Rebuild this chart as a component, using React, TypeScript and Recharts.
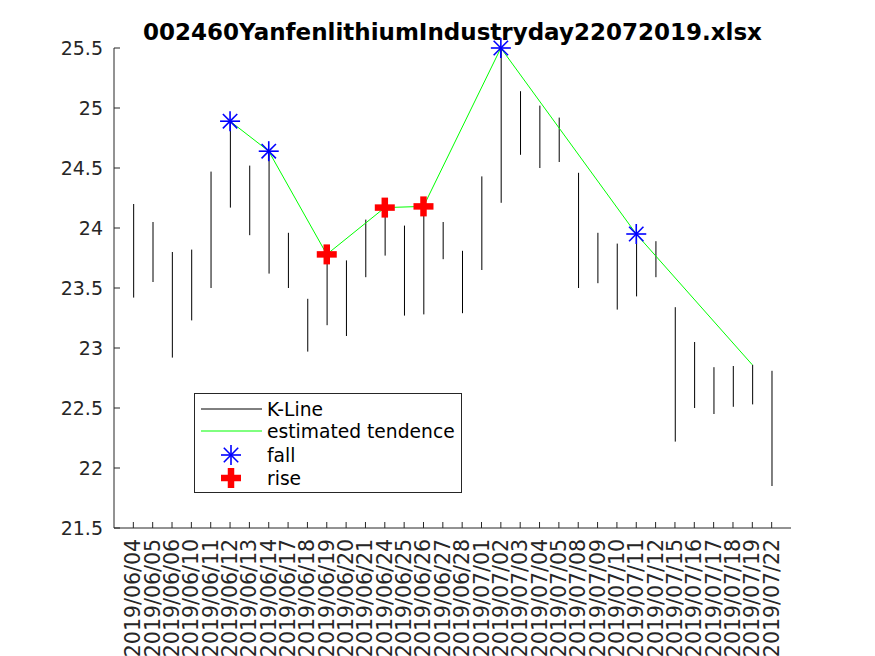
import React from 'react';
import { ComposedChart, Bar, Line, Scatter, XAxis, YAxis, Legend } from 'recharts';

const dates = [
  '2019/06/04', '2019/06/05', '2019/06/06', '2019/06/10', '2019/06/11', '2019/06/12',
  '2019/06/13', '2019/06/14', '2019/06/17', '2019/06/18', '2019/06/19', '2019/06/20',
  '2019/06/21', '2019/06/24', '2019/06/25', '2019/06/26', '2019/06/27', '2019/06/28',
  '2019/07/01', '2019/07/02', '2019/07/03', '2019/07/04', '2019/07/05', '2019/07/08',
  '2019/07/09', '2019/07/10', '2019/07/11', '2019/07/12', '2019/07/15', '2019/07/16',
  '2019/07/17', '2019/07/18', '2019/07/19', '2019/07/22',
];

const highs = [
  24.2, 24.05, 23.8, 23.82, 24.47, 24.89, 24.52, 24.64, 23.96, 23.41, 23.78, 23.73,
  24.07, 24.17, 24.02, 24.18, 24.05, 23.81, 24.43, 25.5, 25.14, 25.02, 24.92, 24.46,
  23.96, 23.87, 23.95, 23.89, 23.34, 23.05, 22.84, 22.85, 22.86, 22.81,
];

const lows = [
  23.42, 23.55, 22.92, 23.23, 23.5, 24.17, 23.94, 23.62, 23.5, 22.97, 23.19, 23.1,
  23.59, 23.77, 23.27, 23.28, 23.74, 23.29, 23.65, 24.21, 24.61, 24.5, 24.55, 23.5,
  23.54, 23.32, 23.43, 23.59, 22.22, 22.5, 22.45, 22.51, 22.53, 21.85,
];

// turning points of the estimated tendence (index into dates, value)
const trendIdx = [5, 7, 10, 13, 15, 19, 26, 32];
const trendVals = [24.89, 24.64, 23.78, 24.17, 24.18, 25.5, 23.95, 22.86];
const fallIdx = [5, 7, 19, 26];
const riseIdx = [10, 13, 15];

const yTicks = [21.5, 22, 22.5, 23, 23.5, 24, 24.5, 25, 25.5];

const FONT = '"DejaVu Sans", sans-serif';
const AXIS = '#262626';

const rows = dates.map((d, i) => {
  const t = trendIdx.indexOf(i);
  return { x: i + 1, range: [lows[i], highs[i]], trend: t >= 0 ? trendVals[t] : null };
});
const trendAt = (i: number) => trendVals[trendIdx.indexOf(i)];
const fallPts = fallIdx.map(i => ({ x: i + 1, v: trendAt(i) }));
const risePts = riseIdx.map(i => ({ x: i + 1, v: trendAt(i) }));

const KLine = (props: any) => {
  const { x, y, width, height } = props;
  const cx = x + width / 2;
  return <line x1={cx} x2={cx} y1={y} y2={y + height} stroke="#000" strokeWidth={1} />;
};

const Star = ({ cx, cy }: any) => {
  const r = 10, d = 7.2;
  return (
    <g stroke="#0000ff" strokeWidth={1.6}>
      <line x1={cx - r} x2={cx + r} y1={cy} y2={cy} />
      <line x1={cx} x2={cx} y1={cy - r} y2={cy + r} />
      <line x1={cx - d} x2={cx + d} y1={cy - d} y2={cy + d} />
      <line x1={cx - d} x2={cx + d} y1={cy + d} y2={cy - d} />
    </g>
  );
};

const Plus = ({ cx, cy }: any) => {
  const r = 10;
  return (
    <g stroke="#ff0000" strokeWidth={6.5}>
      <line x1={cx - r} x2={cx + r} y1={cy} y2={cy} />
      <line x1={cx} x2={cx} y1={cy - r} y2={cy + r} />
    </g>
  );
};

const DateTick = ({ x, y, payload }: any) => (
  <text
    x={x}
    y={y}
    transform={`rotate(-90 ${x} ${y})`}
    textAnchor="end"
    dominantBaseline="central"
    fontSize={20.5}
    fontFamily={FONT}
    fill={AXIS}
  >
    {dates[payload.value - 1]}
  </text>
);

const LegendBox = () => (
  <svg width={268} height={100} style={{ display: 'block' }}>
    <rect x={0.5} y={0.5} width={267} height={99} fill="#fff" stroke={AXIS} strokeWidth={1} />
    <line x1={7} x2={68} y1={16} y2={16} stroke="#000" />
    <line x1={7} x2={68} y1={38} y2={38} stroke="#00ff00" />
    <Star cx={37} cy={62} />
    <Plus cx={37} cy={85} />
    {['K-Line', 'estimated tendence', 'fall', 'rise'].map((s, i) => (
      <text
        key={s}
        x={73}
        y={[16, 38, 62, 85][i]}
        dominantBaseline="central"
        fontSize={18.7}
        fontFamily={FONT}
        fill="#000"
      >
        {s}
      </text>
    ))}
  </svg>
);

export default function App() {
  return (
    <div style={{ position: 'absolute', left: 0, top: 0, width: 875, height: 656, background: '#fff' }}>
      <ComposedChart
        width={875}
        height={656}
        data={rows}
        margin={{ top: 48, right: 84, bottom: 0, left: 54 }}
      >
        <XAxis
          type="number"
          dataKey="x"
          domain={[0, 35]}
          ticks={rows.map(r => r.x)}
          interval={0}
          height={128}
          tick={<DateTick />}
          tickSize={-6}
          tickMargin={17}
          tickLine={{ stroke: AXIS }}
          axisLine={{ stroke: AXIS }}
        />
        <YAxis
          type="number"
          domain={[21.5, 25.5]}
          ticks={yTicks}
          interval={0}
          width={60}
          tickSize={-6}
          tickMargin={17}
          tickLine={{ stroke: AXIS }}
          axisLine={{ stroke: AXIS }}
          tick={{ fontSize: 19, fontFamily: FONT, fill: AXIS }}
        />
        <Legend
          layout="vertical"
          align="center"
          verticalAlign="middle"
          content={<LegendBox />}
          wrapperStyle={{ left: 194, top: 393, width: 268, height: 100 }}
        />
        <Bar dataKey="range" barSize={2} shape={<KLine />} isAnimationActive={false} />
        <Line
          dataKey="trend"
          connectNulls
          stroke="#00ff00"
          strokeWidth={1}
          dot={false}
          activeDot={false}
          isAnimationActive={false}
        />
        <Scatter data={fallPts} dataKey="v" shape={<Star />} isAnimationActive={false} />
        <Scatter data={risePts} dataKey="v" shape={<Plus />} isAnimationActive={false} />
      </ComposedChart>
      <div
        style={{
          position: 'absolute',
          left: 0,
          width: 905,
          top: 16,
          textAlign: 'center',
          fontFamily: FONT,
          fontWeight: 'bold',
          fontSize: 23,
          lineHeight: '32px',
          color: '#000',
          pointerEvents: 'none',
        }}
      >
        002460YanfenlithiumIndustryday22072019.xlsx
      </div>
    </div>
  );
}
